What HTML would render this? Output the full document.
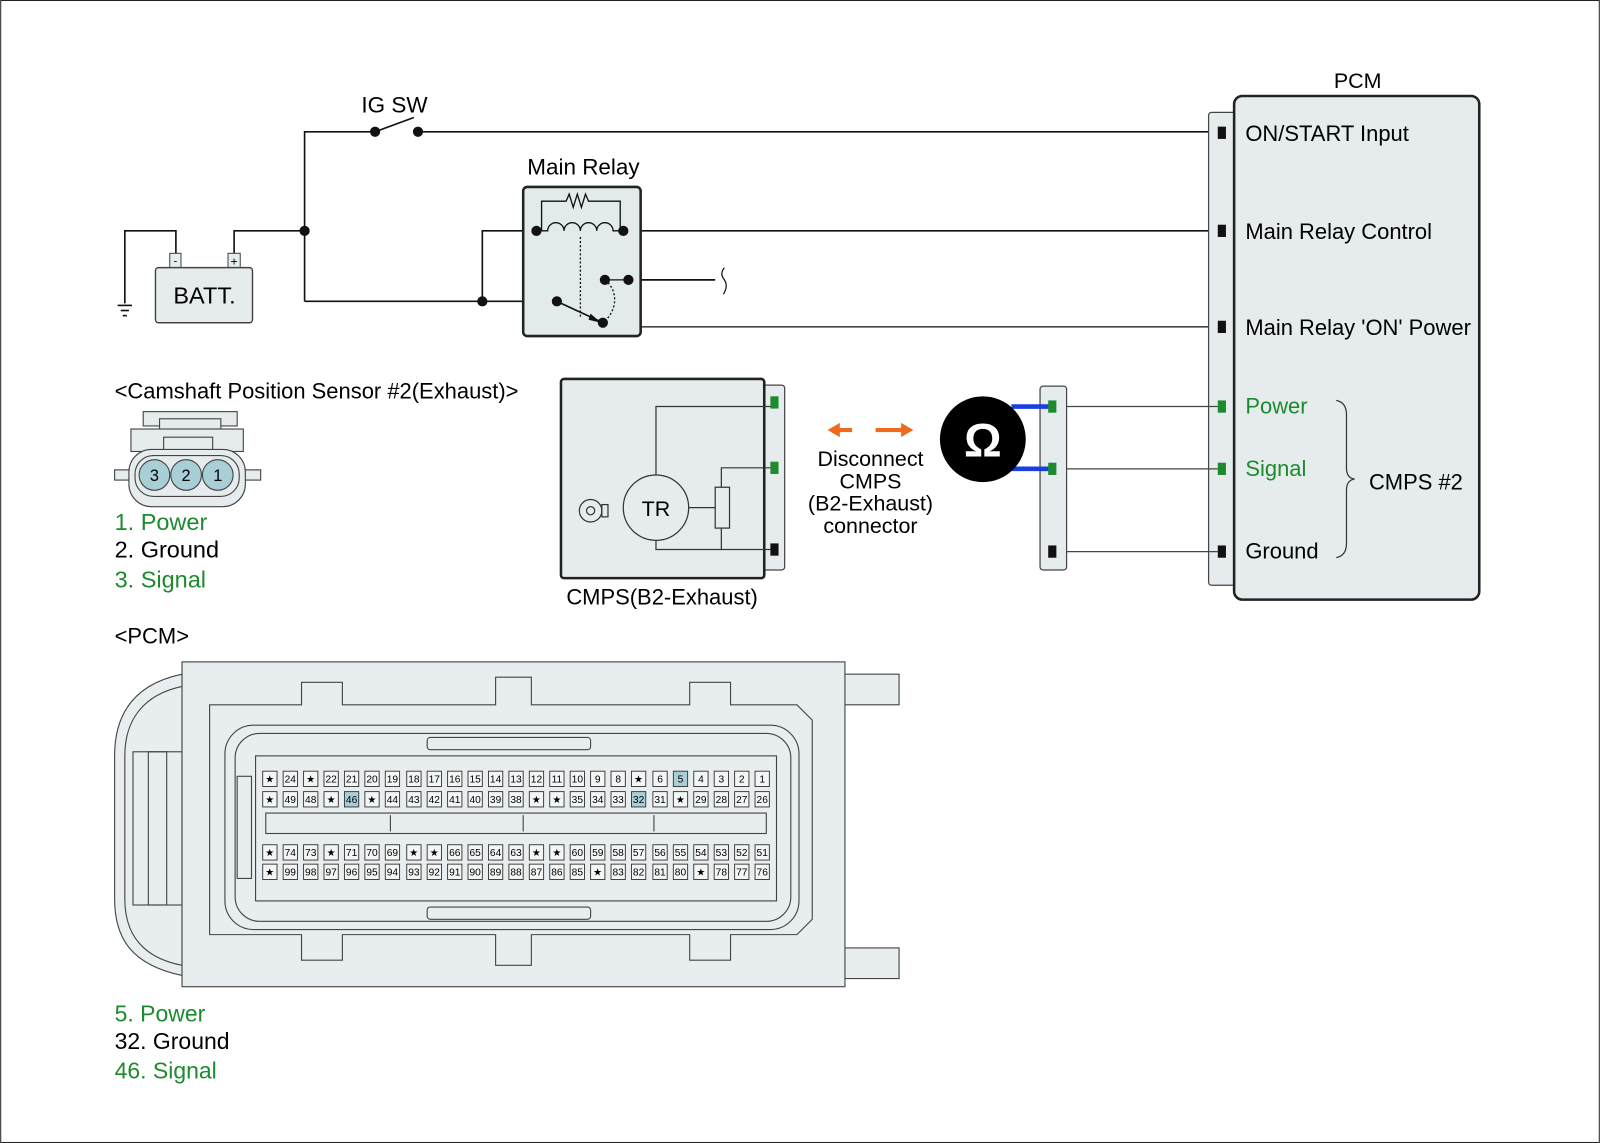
<!DOCTYPE html>
<html><head><meta charset="utf-8"><style>
html,body{margin:0;padding:0;background:#fff}
svg{display:block}
text{font-family:"Liberation Sans",Arial,sans-serif}
</style></head><body>
<svg width="1600" height="1143" viewBox="0 0 1566 1119" xmlns="http://www.w3.org/2000/svg">
<rect x="0.5" y="0.5" width="1565" height="1118" fill="#fff" stroke="#222" stroke-width="1"/>
<g fill="none" stroke="#111" stroke-width="1.6">
<polyline points="298,295 298,129 367,129"/>
<line x1="409" y1="129" x2="1196" y2="129"/>
<line x1="367" y1="129" x2="405" y2="115"/>
<polyline points="229,248 229,226 298,226"/>
<polyline points="172,248 172,226 122,226 122,297"/>
<line x1="115" y1="299" x2="129" y2="299"/><line x1="118" y1="304" x2="126" y2="304"/><line x1="120" y1="309" x2="124" y2="309"/>
<line x1="298" y1="295" x2="545" y2="295"/>
<polyline points="472,295 472,226 525,226"/>
<line x1="610" y1="226" x2="1196" y2="226"/>
<line x1="615" y1="274" x2="700" y2="274"/>
<polyline points="615,274 615,320 1196,320" stroke="#444"/>
<path d="M709,262 q-5,6 0,12 q4,6 -1,14" stroke-width="1.2"/>
</g>
<rect x="166" y="248" width="11" height="14" fill="#e6ecee" stroke="#444"/>
<rect x="223" y="248" width="12" height="14" fill="#e6ecee" stroke="#444"/>
<text x="171.5" y="259" font-size="11" text-anchor="middle">-</text>
<text x="229" y="260" font-size="12" text-anchor="middle">+</text>
<rect x="152" y="262" width="95" height="54" rx="3" fill="#e6ecee" stroke="#444" stroke-width="1.4"/>
<text x="200" y="297" font-size="23" text-anchor="middle">BATT.</text>
<text x="386" y="110" font-size="22" text-anchor="middle">IG SW</text>
<text x="571" y="171" font-size="22" text-anchor="middle">Main Relay</text>
<rect x="512" y="183" width="115" height="146" rx="4" fill="#e3eaec" stroke="#222" stroke-width="2.5"/>
<g fill="none" stroke="#111" stroke-width="1.3">
<polyline points="530,226 530,197 554,197 557,190 561,203 565,190 569,203 573,190 576,197 607,197 607,226"/>
<path d="M530,226 h6 a8,8 0 0 1 16,0 a8,8 0 0 1 16,0 a8,8 0 0 1 16,0 a8,8 0 0 1 16,0 h10"/>
<line x1="568" y1="232" x2="568" y2="310" stroke-dasharray="2,2"/>
<path d="M592,274 C606,285 604,305 590,316" stroke-dasharray="2,2"/>
<line x1="545" y1="295" x2="586" y2="314" stroke-width="1.6"/>
<line x1="592" y1="274" x2="615" y2="274"/>
</g>
<polygon points="588,316 578,307 576,313" fill="#111"/>
<g fill="#111">
<circle cx="367" cy="129" r="5"/><circle cx="409" cy="129" r="5"/>
<circle cx="298" cy="226" r="5"/><circle cx="472" cy="295" r="5"/>
<circle cx="525" cy="226" r="5"/><circle cx="610" cy="226" r="5"/>
<circle cx="545" cy="295" r="5"/><circle cx="590" cy="316" r="5"/>
<circle cx="592" cy="274" r="5"/><circle cx="615" cy="274" r="5"/>
</g>
<rect x="1183" y="110" width="30" height="463" rx="3" fill="#e6ecee" stroke="#444" stroke-width="1.2"/>
<rect x="1208" y="94" width="240" height="493" rx="8" fill="#e6ecee" stroke="#222" stroke-width="2.5"/>
<text x="1329" y="86" font-size="21" text-anchor="middle">PCM</text>
<g fill="#111"><rect x="1192" y="124" width="8" height="12"/><rect x="1192" y="220" width="8" height="12"/><rect x="1192" y="314" width="8" height="12"/><rect x="1192" y="534" width="8" height="12"/></g>
<g fill="#1e8a2e"><rect x="1192" y="392" width="8" height="12"/><rect x="1192" y="453" width="8" height="12"/></g>
<g font-size="21.5">
<text x="1219" y="138">ON/START Input</text>
<text x="1219" y="234">Main Relay Control</text>
<text x="1219" y="328">Main Relay 'ON' Power</text>
<text x="1219" y="405" fill="#1e8a2e">Power</text>
<text x="1219" y="466" fill="#1e8a2e">Signal</text>
<text x="1219" y="547">Ground</text>
<text x="1340" y="479">CMPS #2</text>
</g>
<path d="M1332,392 q10,2 10,14 v52 q0,10 8,11 q-8,1 -8,11 v52 q0,12 -10,14" fill="none" stroke="#333" stroke-width="1.2" transform="translate(-24,0)"/>
<g stroke="#444" stroke-width="1.2"><line x1="1030" y1="398" x2="1192" y2="398"/><line x1="1030" y1="459" x2="1192" y2="459"/><line x1="1030" y1="540" x2="1192" y2="540"/></g>
<rect x="1018" y="378" width="26" height="180" rx="3" fill="#e6ecee" stroke="#444" stroke-width="1.2"/>
<g stroke="#1a3fe0" stroke-width="4.5"><line x1="990" y1="398" x2="1030" y2="398"/><line x1="990" y1="459" x2="1030" y2="459"/></g>
<rect x="1026" y="392" width="8" height="12" fill="#1e8a2e"/><rect x="1026" y="453" width="8" height="12" fill="#1e8a2e"/><rect x="1026" y="534" width="8" height="12" fill="#111"/>
<circle cx="962" cy="430" r="42" fill="#000"/>
<text x="962" y="447" font-size="46" font-weight="bold" fill="#fff" text-anchor="middle">Ω</text>
<g fill="#f06a1e"><rect x="820" y="419" width="14" height="4"/><polygon points="810,421 822,414 822,428"/><rect x="857" y="419" width="26" height="4"/><polygon points="894,421 882,414 882,428"/></g>
<g font-size="21" text-anchor="middle"><text x="852" y="456">Disconnect</text><text x="852" y="478">CMPS</text><text x="852" y="500">(B2-Exhaust)</text><text x="852" y="522">connector</text></g>
<rect x="745" y="377" width="23" height="181" rx="3" fill="#e6ecee" stroke="#444" stroke-width="1.2"/>
<rect x="549" y="371" width="199" height="195" rx="3" fill="#e6ecee" stroke="#222" stroke-width="2.5"/>
<rect x="754" y="388" width="8" height="12" fill="#1e8a2e"/><rect x="754" y="452" width="8" height="12" fill="#1e8a2e"/><rect x="754" y="532" width="8" height="12" fill="#111"/>
<g fill="none" stroke="#333" stroke-width="1.2">
<polyline points="642,465 642,398 754,398"/>
<polyline points="642,529 642,538 754,538"/>
<polyline points="706,477 706,458 754,458"/>
<line x1="706" y1="517" x2="706" y2="538"/>
<line x1="674" y1="497" x2="700" y2="497"/>
<circle cx="642" cy="497" r="32" fill="#e6ecee"/>
<rect x="700" y="477" width="14" height="40" fill="#e6ecee"/>
<circle cx="578" cy="500" r="11"/><circle cx="578" cy="500" r="4"/>
<rect x="589" y="494" width="6" height="12"/>
</g>
<text x="642" y="505" font-size="21" text-anchor="middle">TR</text>
<text x="648" y="592" font-size="21.5" text-anchor="middle">CMPS(B2-Exhaust)</text>
<text x="112" y="390" font-size="21.5">&lt;Camshaft Position Sensor #2(Exhaust)&gt;</text>
<g stroke="#444" stroke-width="1.1" fill="#e6ecee">
<rect x="140" y="403" width="92" height="14"/>
<rect x="156" y="410" width="60" height="12"/>
<rect x="128" y="420" width="110" height="22"/>
<rect x="160" y="428" width="48" height="14"/>
<rect x="112" y="460" width="143" height="10"/>
<rect x="126" y="440" width="114" height="56" rx="22"/>
<rect x="132" y="446" width="102" height="40" rx="18"/>
<circle cx="151" cy="465" r="15" fill="#a9cfd6"/><circle cx="182" cy="465" r="15" fill="#a9cfd6"/><circle cx="213" cy="465" r="15" fill="#a9cfd6"/>
</g>
<g font-size="16" text-anchor="middle"><text x="151" y="471">3</text><text x="182" y="471">2</text><text x="213" y="471">1</text></g>
<g font-size="23"><text x="112" y="519" fill="#1e8a2e">1. Power</text><text x="112" y="546">2. Ground</text><text x="112" y="575" fill="#1e8a2e">3. Signal</text></g>
<text x="112" y="630" font-size="21.5">&lt;PCM&gt;</text>
<g font-size="22.5"><text x="112" y="1000" fill="#1e8a2e">5. Power</text><text x="112" y="1027">32. Ground</text><text x="112" y="1056" fill="#1e8a2e">46. Signal</text></g>
<g stroke="#444" stroke-width="1.1" fill="#e8eef0">
<path d="M178,660 C130,670 112,700 112,740 V880 C112,920 130,945 178,955 Z"/>
<path d="M178,672 C140,680 122,705 122,740 V880 C122,915 140,938 178,945" fill="none"/>
<rect x="130" y="736" width="48" height="150" fill="none"/>
<rect x="145" y="736" width="18" height="150" fill="none"/>
<rect x="827" y="660" width="53" height="30"/><rect x="827" y="928" width="53" height="30"/>
<rect x="178" y="648" width="649" height="318"/>
<path d="M205,690 H295 V668 H335 V690 H485 V663 H520 V690 H675 V668 H715 V690 H780 L795,705 V900 L780,915 H715 V940 H675 V915 H520 V945 H485 V915 H335 V940 H295 V915 H205 Z" fill="#e8eef0"/>
<rect x="220" y="710" width="562" height="200" rx="28" fill="none"/>
<rect x="230" y="718" width="544" height="184" rx="24" fill="none"/>
<rect x="250" y="740" width="510" height="142" fill="#e8eef0"/>
<rect x="260" y="796" width="490" height="20" fill="#e8eef0"/>
<line x1="382" y1="798" x2="382" y2="814"/><line x1="512" y1="798" x2="512" y2="814"/><line x1="640" y1="798" x2="640" y2="814"/>
<rect x="418" y="722" width="160" height="12" rx="3"/><rect x="418" y="888" width="160" height="12" rx="3"/>
<rect x="232" y="760" width="14" height="100" fill="none"/>
</g>
<g font-size="10" text-anchor="middle">
<g stroke="#333" stroke-width="0.9" fill="#f4f6f6">
<rect x="257" y="755" width="14" height="15"/><rect x="277" y="755" width="14" height="15"/><rect x="297" y="755" width="14" height="15"/><rect x="317" y="755" width="14" height="15"/><rect x="337" y="755" width="14" height="15"/><rect x="357" y="755" width="14" height="15"/><rect x="377" y="755" width="14" height="15"/><rect x="398" y="755" width="14" height="15"/><rect x="418" y="755" width="14" height="15"/><rect x="438" y="755" width="14" height="15"/><rect x="458" y="755" width="14" height="15"/><rect x="478" y="755" width="14" height="15"/><rect x="498" y="755" width="14" height="15"/><rect x="518" y="755" width="14" height="15"/><rect x="538" y="755" width="14" height="15"/><rect x="558" y="755" width="14" height="15"/><rect x="578" y="755" width="14" height="15"/><rect x="598" y="755" width="14" height="15"/><rect x="618" y="755" width="14" height="15"/><rect x="639" y="755" width="14" height="15"/><rect x="659" y="755" width="14" height="15" fill="#a9cfd6"/><rect x="679" y="755" width="14" height="15"/><rect x="699" y="755" width="14" height="15"/><rect x="719" y="755" width="14" height="15"/><rect x="739" y="755" width="14" height="15"/>
<rect x="257" y="775" width="14" height="15"/><rect x="277" y="775" width="14" height="15"/><rect x="297" y="775" width="14" height="15"/><rect x="317" y="775" width="14" height="15"/><rect x="337" y="775" width="14" height="15" fill="#a9cfd6"/><rect x="357" y="775" width="14" height="15"/><rect x="377" y="775" width="14" height="15"/><rect x="398" y="775" width="14" height="15"/><rect x="418" y="775" width="14" height="15"/><rect x="438" y="775" width="14" height="15"/><rect x="458" y="775" width="14" height="15"/><rect x="478" y="775" width="14" height="15"/><rect x="498" y="775" width="14" height="15"/><rect x="518" y="775" width="14" height="15"/><rect x="538" y="775" width="14" height="15"/><rect x="558" y="775" width="14" height="15"/><rect x="578" y="775" width="14" height="15"/><rect x="598" y="775" width="14" height="15"/><rect x="618" y="775" width="14" height="15" fill="#a9cfd6"/><rect x="639" y="775" width="14" height="15"/><rect x="659" y="775" width="14" height="15"/><rect x="679" y="775" width="14" height="15"/><rect x="699" y="775" width="14" height="15"/><rect x="719" y="775" width="14" height="15"/><rect x="739" y="775" width="14" height="15"/>
<rect x="257" y="827" width="14" height="15"/><rect x="277" y="827" width="14" height="15"/><rect x="297" y="827" width="14" height="15"/><rect x="317" y="827" width="14" height="15"/><rect x="337" y="827" width="14" height="15"/><rect x="357" y="827" width="14" height="15"/><rect x="377" y="827" width="14" height="15"/><rect x="398" y="827" width="14" height="15"/><rect x="418" y="827" width="14" height="15"/><rect x="438" y="827" width="14" height="15"/><rect x="458" y="827" width="14" height="15"/><rect x="478" y="827" width="14" height="15"/><rect x="498" y="827" width="14" height="15"/><rect x="518" y="827" width="14" height="15"/><rect x="538" y="827" width="14" height="15"/><rect x="558" y="827" width="14" height="15"/><rect x="578" y="827" width="14" height="15"/><rect x="598" y="827" width="14" height="15"/><rect x="618" y="827" width="14" height="15"/><rect x="639" y="827" width="14" height="15"/><rect x="659" y="827" width="14" height="15"/><rect x="679" y="827" width="14" height="15"/><rect x="699" y="827" width="14" height="15"/><rect x="719" y="827" width="14" height="15"/><rect x="739" y="827" width="14" height="15"/>
<rect x="257" y="846" width="14" height="15"/><rect x="277" y="846" width="14" height="15"/><rect x="297" y="846" width="14" height="15"/><rect x="317" y="846" width="14" height="15"/><rect x="337" y="846" width="14" height="15"/><rect x="357" y="846" width="14" height="15"/><rect x="377" y="846" width="14" height="15"/><rect x="398" y="846" width="14" height="15"/><rect x="418" y="846" width="14" height="15"/><rect x="438" y="846" width="14" height="15"/><rect x="458" y="846" width="14" height="15"/><rect x="478" y="846" width="14" height="15"/><rect x="498" y="846" width="14" height="15"/><rect x="518" y="846" width="14" height="15"/><rect x="538" y="846" width="14" height="15"/><rect x="558" y="846" width="14" height="15"/><rect x="578" y="846" width="14" height="15"/><rect x="598" y="846" width="14" height="15"/><rect x="618" y="846" width="14" height="15"/><rect x="639" y="846" width="14" height="15"/><rect x="659" y="846" width="14" height="15"/><rect x="679" y="846" width="14" height="15"/><rect x="699" y="846" width="14" height="15"/><rect x="719" y="846" width="14" height="15"/><rect x="739" y="846" width="14" height="15"/>
</g>
<text x="264" y="766">★</text><text x="284" y="766">24</text><text x="304" y="766">★</text><text x="324" y="766">22</text><text x="344" y="766">21</text><text x="364" y="766">20</text><text x="384" y="766">19</text><text x="405" y="766">18</text><text x="425" y="766">17</text><text x="445" y="766">16</text><text x="465" y="766">15</text><text x="485" y="766">14</text><text x="505" y="766">13</text><text x="525" y="766">12</text><text x="545" y="766">11</text><text x="565" y="766">10</text><text x="585" y="766">9</text><text x="605" y="766">8</text><text x="625" y="766">★</text><text x="646" y="766">6</text><text x="666" y="766">5</text><text x="686" y="766">4</text><text x="706" y="766">3</text><text x="726" y="766">2</text><text x="746" y="766">1</text>
<text x="264" y="786">★</text><text x="284" y="786">49</text><text x="304" y="786">48</text><text x="324" y="786">★</text><text x="344" y="786">46</text><text x="364" y="786">★</text><text x="384" y="786">44</text><text x="405" y="786">43</text><text x="425" y="786">42</text><text x="445" y="786">41</text><text x="465" y="786">40</text><text x="485" y="786">39</text><text x="505" y="786">38</text><text x="525" y="786">★</text><text x="545" y="786">★</text><text x="565" y="786">35</text><text x="585" y="786">34</text><text x="605" y="786">33</text><text x="625" y="786">32</text><text x="646" y="786">31</text><text x="666" y="786">★</text><text x="686" y="786">29</text><text x="706" y="786">28</text><text x="726" y="786">27</text><text x="746" y="786">26</text>
<text x="264" y="838">★</text><text x="284" y="838">74</text><text x="304" y="838">73</text><text x="324" y="838">★</text><text x="344" y="838">71</text><text x="364" y="838">70</text><text x="384" y="838">69</text><text x="405" y="838">★</text><text x="425" y="838">★</text><text x="445" y="838">66</text><text x="465" y="838">65</text><text x="485" y="838">64</text><text x="505" y="838">63</text><text x="525" y="838">★</text><text x="545" y="838">★</text><text x="565" y="838">60</text><text x="585" y="838">59</text><text x="605" y="838">58</text><text x="625" y="838">57</text><text x="646" y="838">56</text><text x="666" y="838">55</text><text x="686" y="838">54</text><text x="706" y="838">53</text><text x="726" y="838">52</text><text x="746" y="838">51</text>
<text x="264" y="857">★</text><text x="284" y="857">99</text><text x="304" y="857">98</text><text x="324" y="857">97</text><text x="344" y="857">96</text><text x="364" y="857">95</text><text x="384" y="857">94</text><text x="405" y="857">93</text><text x="425" y="857">92</text><text x="445" y="857">91</text><text x="465" y="857">90</text><text x="485" y="857">89</text><text x="505" y="857">88</text><text x="525" y="857">87</text><text x="545" y="857">86</text><text x="565" y="857">85</text><text x="585" y="857">★</text><text x="605" y="857">83</text><text x="625" y="857">82</text><text x="646" y="857">81</text><text x="666" y="857">80</text><text x="686" y="857">★</text><text x="706" y="857">78</text><text x="726" y="857">77</text><text x="746" y="857">76</text>
</g>
</svg>
</body></html>
